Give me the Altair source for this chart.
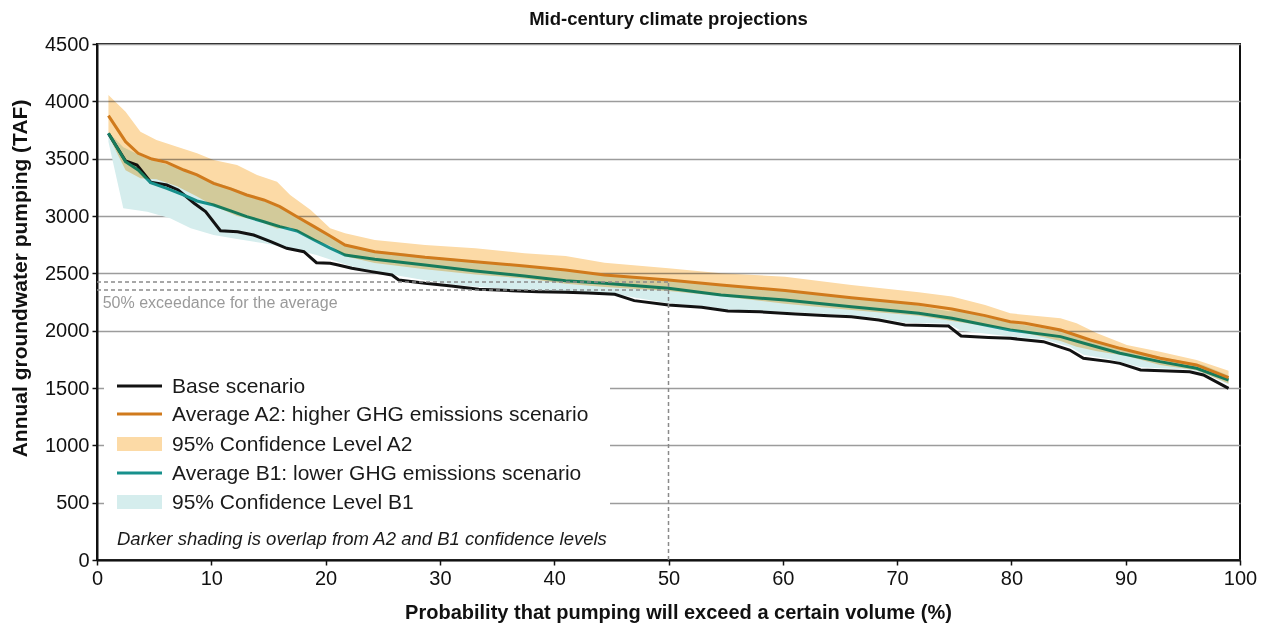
import altair as alt
import pandas as pd

FONT = "Liberation Sans"

# ---------------- data ----------------
base_x = [1.0, 2.5, 3.5, 4.7, 6.1, 7.1, 8.5, 9.5, 10.8, 12.3, 13.7, 15.2, 16.6, 18.1, 19.2, 20.4,
          21.1, 22.3, 24.0, 25.8, 26.4, 28.7, 31.0, 33.4, 36.3, 38.6, 41.0, 43.0, 45.3, 47.0, 50.0,
          52.9, 55.2, 58.0, 61.1, 64.0, 66.0, 68.4, 70.7, 74.5, 75.6, 78.0, 79.9, 82.8, 85.1, 86.3,
          88.6, 89.5, 91.3, 95.6, 96.8, 99.0]
base_y = [3720, 3480, 3445, 3294, 3270, 3227, 3111, 3038, 2872, 2863, 2834, 2776, 2718, 2689, 2593, 2588,
          2573, 2544, 2515, 2486, 2442, 2413, 2390, 2361, 2349, 2340, 2335, 2328, 2317, 2262, 2224,
          2204, 2172, 2165, 2145, 2130, 2122, 2093, 2049, 2041, 1954, 1940, 1933, 1904, 1831, 1759,
          1730, 1715, 1657, 1642, 1614, 1497]

a2_x = [1.0, 2.5, 3.6, 4.8, 6.1, 7.6, 8.75, 10.2, 11.7, 13.1, 14.6, 16.0, 17.5, 19.0, 20.4, 21.7,
        24.3, 28.7, 33.1, 37.4, 41.0, 44.4, 50.0, 54.6, 60.2, 66.0, 71.9, 74.8, 77.7, 79.9, 81.2,
        84.3, 86.9, 89.5, 93.0, 96.2, 99.0]
a2_y = [3875, 3648, 3547, 3497, 3468, 3401, 3358, 3285, 3236, 3183, 3140, 3081, 2994, 2907, 2825, 2747,
        2689, 2640, 2602, 2564, 2529, 2486, 2442, 2398, 2350, 2288, 2230, 2189, 2131, 2078, 2064,
        2006, 1919, 1846, 1759, 1701, 1590]

b1_x = [1.0, 2.5, 3.6, 4.7, 6.1, 7.6, 8.75, 10.2, 11.7, 13.1, 14.6, 16.0, 17.5, 19.0, 20.4, 21.7,
        24.3, 28.7, 33.1, 37.4, 41.0, 44.4, 50.0, 54.6, 60.2, 66.0, 71.9, 74.8, 77.7, 79.9, 84.3,
        86.9, 89.5, 93.0, 96.2, 99.0]
b1_y = [3721, 3474, 3401, 3290, 3241, 3183, 3131, 3096, 3044, 2994, 2950, 2907, 2869, 2791, 2720, 2660,
        2622, 2573, 2520, 2477, 2436, 2413, 2370, 2311, 2267, 2209, 2151, 2108, 2049, 2006, 1948,
        1875, 1803, 1730, 1672, 1570]

a2_band_x = [1.0, 2.5, 3.8, 5.2, 7.0, 8.75, 10.2, 12.25, 14.0, 15.75, 16.9, 18.7, 20.4, 21.7, 24.3,
             28.7, 33.1, 37.4, 41.0, 44.4, 50.0, 54.6, 60.2, 66.0, 71.9, 74.8, 77.7, 79.9, 84.3, 85.7,
             87.5, 90.1, 93.0, 96.2, 99.0]
a2_band_hi = [4055, 3910, 3735, 3663, 3605, 3547, 3488, 3445, 3358, 3299, 3183, 3052, 2893, 2849, 2791,
              2747, 2718, 2675, 2651, 2593, 2544, 2500, 2471, 2398, 2334, 2297, 2224, 2151, 2108, 2064,
              1977, 1875, 1817, 1744, 1650]
a2_band_lo = [3700, 3400, 3330, 3320, 3260, 3170, 3090, 3000, 2960, 2890, 2900, 2800, 2740, 2650, 2590,
              2535, 2490, 2455, 2410, 2380, 2345, 2300, 2235, 2180, 2130, 2085, 2040, 2010, 1910, 1860,
              1820, 1780, 1700, 1655, 1540]

b1_band_x = [1.0, 2.3, 4.4, 6.4, 8.2, 10.2, 12.25, 14.6, 16.9, 19.2, 20.4, 22.3, 24.0, 26.4, 28.7, 31.0,
             33.4, 36.3, 38.6, 41.0, 45.3, 47.0, 50.0, 52.9, 55.2, 61.1, 66.0, 68.4, 70.7, 74.5, 75.6,
             79.9, 82.8, 85.1, 86.3, 88.6, 91.3, 95.6, 96.8, 99.0]
b1_band_hi = [3730, 3600, 3500, 3440, 3370, 3300, 3230, 3130, 3030, 2890, 2820, 2730, 2700, 2680, 2650,
              2630, 2605, 2580, 2560, 2530, 2480, 2470, 2450, 2420, 2400, 2345, 2285, 2260, 2240, 2170,
              2170, 2070, 2020, 1975, 1940, 1880, 1810, 1720, 1700, 1610]
b1_band_lo = [3648, 3067, 3038, 2980, 2893, 2834, 2800, 2762, 2718, 2660, 2620, 2560, 2525, 2480, 2440,
              2405, 2380, 2360, 2350, 2340, 2325, 2290, 2240, 2215, 2185, 2160, 2135, 2110, 2070, 2060,
              2000, 1950, 1925, 1860, 1790, 1750, 1680, 1660, 1630, 1530]

exceed_levels = [2425, 2355]
exceed_x = 50
x_ticks = list(range(0, 101, 10))
y_ticks = list(range(0, 4501, 500))

legend_labels = ["Base scenario",
                 "Average A2: higher GHG emissions scenario",
                 "95% Confidence Level A2",
                 "Average B1: lower GHG emissions scenario",
                 "95% Confidence Level B1"]
legend_kinds = ["line", "line", "rect", "line", "rect"]
note_text = "Darker shading is overlap from A2 and B1 confidence levels"
exceed_text = "50% exceedance for the average"

C_BASE = "#121212"
C_A2 = "#d07a1c"
C_B1 = "#17908c"
C_A2_BAND = "#fcdaa6"
C_B1_BAND = "#d5eded"
legend_colors = [C_BASE, C_A2, C_A2_BAND, C_B1, C_B1_BAND]

# ---------------- encodings ----------------
X = alt.X("x:Q", scale=alt.Scale(domain=[0, 100], nice=False),
          axis=alt.Axis(values=x_ticks, title="Probability that pumping will exceed a certain volume (%)",
                        grid=False, labelFlush=False, format="d",
                        titleX=581, titleY=52, titleBaseline="middle", titleFontSize=20))
Y = alt.Y("y:Q", scale=alt.Scale(domain=[0, 4500], nice=False),
          axis=alt.Axis(values=y_ticks, title="Annual groundwater pumping (TAF)", grid=True,
                        format="d", labelFlush=False,
                        titleX=-77, titleY=234, titleBaseline="middle", titleAlign="center",
                        titleFontSize=21))


def df_line(xs, ys):
    return pd.DataFrame({"x": xs, "y": ys})


def df_band(xs, lo, hi):
    return pd.DataFrame({"x": xs, "y": lo, "y2": hi})


b1_band = alt.Chart(df_band(b1_band_x, b1_band_lo, b1_band_hi)).mark_area(
    color=C_B1_BAND, opacity=1).encode(x=X, y=Y, y2="y2:Q")
a2_band = alt.Chart(df_band(a2_band_x, a2_band_lo, a2_band_hi)).mark_area(
    color=C_A2_BAND, opacity=1, blend="multiply").encode(x=X, y=Y, y2="y2:Q")

base_line = alt.Chart(df_line(base_x, base_y)).mark_line(color=C_BASE, strokeWidth=3).encode(x=X, y=Y)
b1_line = alt.Chart(df_line(b1_x, b1_y)).mark_line(color=C_B1, strokeWidth=3).encode(x=X, y=Y)
a2_line = alt.Chart(df_line(a2_x, a2_y)).mark_line(color=C_A2, strokeWidth=3).encode(x=X, y=Y)

dash_h = alt.Chart(pd.DataFrame({"x": [0] * len(exceed_levels), "x2": [exceed_x] * len(exceed_levels),
                                 "y": exceed_levels})).mark_rule(
    color="#8a8a8a", strokeDash=[4, 3], strokeWidth=1.5).encode(x=X, x2="x2:Q", y=Y)
dash_v = alt.Chart(pd.DataFrame({"x": [exceed_x], "y": [0], "y2": [exceed_levels[0]]})).mark_rule(
    color="#8a8a8a", strokeDash=[4, 3], strokeWidth=1.5).encode(x=X, y=Y, y2="y2:Q")
exceed_label = alt.Chart(pd.DataFrame({"x": [0.5], "y": [2241], "t": [exceed_text]})).mark_text(
    align="left", baseline="middle", fontSize=16, color="#9a9a9a", font=FONT).encode(x=X, y=Y, text="t:N")

# ---------------- legend (drawn inside the plot) ----------------
one = pd.DataFrame({"a": [0]})
legend_layers = [alt.Chart(one).mark_rect(color="white").encode(
    x=alt.value(7), x2=alt.value(513), y=alt.value(331), y2=alt.value(514))]
row_y = [342, 370, 400, 429, 458]
for lab, kind, col, yy in zip(legend_labels, legend_kinds, legend_colors, row_y):
    if kind == "line":
        legend_layers.append(alt.Chart(one).mark_rule(color=col, strokeWidth=3).encode(
            x=alt.value(20), x2=alt.value(65), y=alt.value(yy)))
    else:
        legend_layers.append(alt.Chart(one).mark_rect(color=col).encode(
            x=alt.value(20), x2=alt.value(65), y=alt.value(yy - 7), y2=alt.value(yy + 7)))
    legend_layers.append(alt.Chart(one).mark_text(
        align="left", baseline="middle", fontSize=21, color="#1a1a1a", font=FONT).encode(
        x=alt.value(75), y=alt.value(yy + 1), text=alt.value(lab)))
legend_layers.append(alt.Chart(one).mark_text(
    align="left", baseline="middle", fontSize=18.5, fontStyle="italic", color="#1a1a1a", font=FONT).encode(
    x=alt.value(20), y=alt.value(495), text=alt.value(note_text)))

chart = alt.layer(
    b1_band, base_line, b1_line, a2_band, a2_line, dash_h, dash_v, exceed_label, *legend_layers
).properties(
    width=1143, height=516,
    title=alt.TitleParams("Mid-century climate projections", fontSize=18.5, font=FONT,
                          fontWeight="bold", color="#111", offset=6),
    autosize=alt.AutoSizeParams(type="none"),
    padding={"left": 89, "top": 36, "right": 17, "bottom": 64},
).configure_view(
    stroke="#111", strokeWidth=2
).configure_axis(
    labelFont=FONT, titleFont=FONT, labelFontSize=20, labelColor="#111",
    titleColor="#111", titleFontWeight="bold", domainColor="#111", domainWidth=2,
    tickColor="#111", tickSize=5, tickWidth=1.5, labelPadding=3,
    gridColor="#9c9c9c", gridWidth=1.5
)

chart.save("out.html", embed_options={"renderer": "svg", "actions": False})
